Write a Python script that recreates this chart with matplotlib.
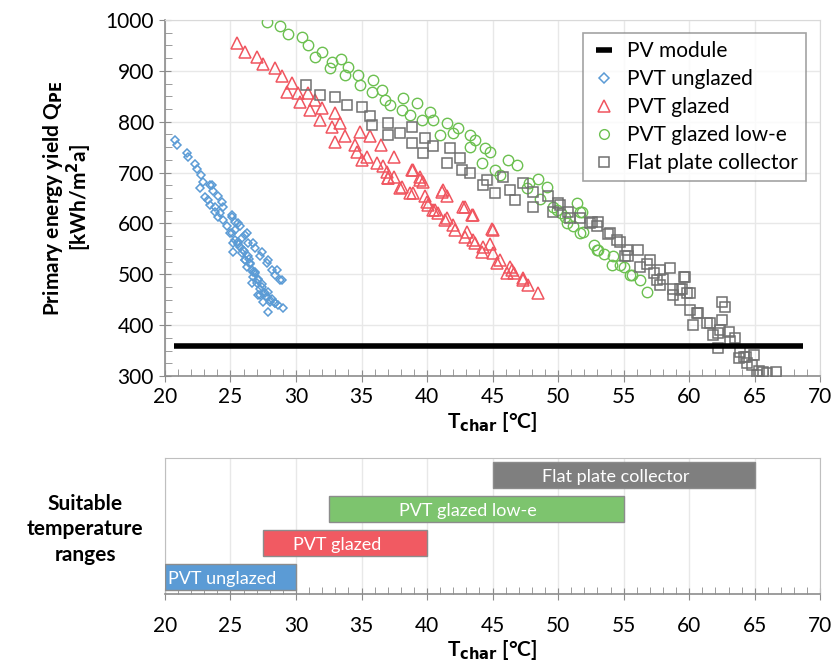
import matplotlib.pyplot as plt
from matplotlib.lines import Line2D
from matplotlib.ticker import MultipleLocator

plt.rcParams["font.family"] = ["Lato", "DejaVu Sans"]

# PV module (constant yield)
pv_t = [20.7, 68.7]
pv_q = [360, 360]

# PVT unglazed
ung_t = [20.76, 20.94, 21.65, 21.78, 22.29, 22.47, 22.72, 22.93, 22.67, 23.56,
         23.69, 23.05, 24.07, 24.33, 23.44, 24.45, 23.82, 24.07, 25.09, 25.34,
         24.71, 25.73, 24.96, 26.10, 25.34, 26.36, 25.21, 25.73, 26.87, 25.85,
         27.25, 26.10, 27.76, 26.23, 26.62, 28.14, 28.40, 26.74, 28.78, 27.00,
         26.62, 27.25, 27.51, 27.76, 27.25, 28.02, 27.51, 27.89, 28.40, 29.03,
         28.65, 26.40, 26.90, 27.10, 25.60, 26.00, 27.40, 27.90, 28.20, 26.50,
         23.44, 23.31, 23.82, 24.20, 24.45, 25.09, 25.60, 26.23, 26.74, 27.38,
         27.89, 28.52, 28.91, 25.09, 25.21, 25.60, 25.97, 26.10, 26.49, 26.74,
         27.12, 27.38, 27.63, 28.02, 27.12, 28.40, 26.87, 26.36, 25.85, 25.34]
ung_q = [764, 754, 738, 731, 716, 708, 695, 682, 669, 676,
         664, 651, 653, 643, 636, 632, 623, 613, 613, 603,
         594, 594, 581, 577, 567, 561, 544, 554, 551, 541,
         535, 528, 522, 515, 508, 508, 499, 495, 489, 482,
         482, 472, 463, 456, 459, 446, 446, 426, 443, 433,
         440, 530, 505, 490, 560, 545, 480, 465, 452, 520,
         676, 646, 633, 620, 607, 617, 600, 581, 561, 544,
         528, 508, 489, 581, 561, 564, 548, 528, 522, 505,
         489, 476, 463, 450, 459, 443, 502, 535, 571, 587]

# PVT glazed
gl_t = [25.52, 26.11, 27.05, 27.51, 28.40, 28.91, 29.67, 29.29, 30.18, 30.31,
        30.94, 31.45, 31.07, 31.96, 31.83, 32.98, 33.36, 32.72, 33.74, 34.89,
        35.65, 34.50, 34.63, 35.39, 36.45, 36.20, 37.47, 36.97, 37.47, 38.82,
        38.07, 39.47, 39.71, 38.95, 41.24, 41.50, 39.97, 40.48, 42.90, 43.54,
        41.50, 42.00, 45.04, 43.03, 43.54, 44.30, 45.04, 45.57, 45.31, 46.34,
        46.60, 46.08, 47.35, 47.73, 48.49, 33.00, 35.00, 37.00, 40.80, 44.80,
        36.67, 37.05, 37.94, 38.95, 39.47, 39.85, 41.12, 40.61, 41.37, 42.77,
        43.41, 42.14, 42.90, 43.66, 44.93, 44.17, 46.46, 47.35, 40.10, 38.70]
gl_q = [954, 938, 928, 913, 905, 889, 876, 859, 856, 839,
        856, 843, 823, 826, 803, 817, 797, 790, 771, 780,
        771, 754, 741, 731, 754, 718, 731, 702, 692, 705,
        672, 692, 682, 659, 666, 653, 643, 626, 633, 617,
        610, 597, 587, 584, 567, 554, 541, 528, 522, 515,
        502, 502, 489, 479, 463, 760, 725, 690, 620, 560,
        712, 689, 669, 705, 685, 653, 662, 626, 607, 633,
        617, 587, 574, 561, 590, 544, 508, 492, 636, 659]

# PVT glazed low-e
le_t = [27.80, 28.78, 29.41, 30.43, 30.94, 31.96, 31.45, 32.72, 33.47, 33.99,
        32.60, 33.74, 34.76, 34.89, 35.90, 35.78, 36.55, 36.79, 37.18, 38.19,
        38.07, 39.21, 38.70, 40.23, 39.59, 40.48, 40.99, 41.50, 42.00, 42.39,
        43.28, 43.66, 43.28, 44.43, 44.81, 46.21, 46.84, 44.17, 45.57, 48.49,
        49.12, 47.60, 48.63, 49.64, 51.43, 51.68, 50.66, 51.68, 52.70, 52.95,
        54.20, 54.11, 55.00, 55.62, 56.26, 56.77, 53.50, 50.20, 47.80, 45.20,
        49.89, 51.81, 51.17, 53.08, 54.73, 55.50, 50.53, 51.93]
le_q = [996, 988, 972, 966, 951, 938, 928, 918, 923, 908,
        905, 892, 892, 872, 882, 859, 862, 843, 833, 846,
        823, 836, 813, 820, 803, 803, 774, 797, 777, 787,
        774, 764, 751, 748, 741, 725, 715, 718, 695, 687,
        672, 669, 649, 633, 640, 623, 600, 581, 558, 548,
        535, 518, 515, 499, 489, 466, 540, 620, 680, 705,
        626, 623, 594, 548, 518, 499, 613, 584]

# Flat plate collector
fp_t = [30.76, 31.83, 32.98, 33.87, 35.01, 35.65, 35.78, 37.05, 37.05, 37.94,
        38.82, 38.82, 39.85, 40.48, 39.71, 41.75, 41.50, 42.52, 42.65, 43.28,
        44.54, 44.30, 45.19, 45.83, 46.34, 46.72, 47.35, 48.11, 48.11, 49.25,
        49.64, 50.15, 50.92, 52.95, 52.57, 54.46, 55.22, 55.34, 56.11, 57.02,
        57.28, 58.55, 58.80, 59.69, 59.82, 60.59, 61.35, 62.49, 62.75, 62.37,
        63.13, 63.77, 60.30, 61.80, 62.20, 63.90, 64.30, 64.80, 65.60, 66.60,
        65.20, 53.80, 56.80, 58.00,
        50.00, 50.76, 51.68, 52.44, 53.08, 53.97, 54.73, 55.11, 56.26, 57.79,
        57.53, 59.57, 59.31, 57.79, 58.80, 59.43, 60.08, 60.08, 60.71, 61.60,
        62.49, 62.23, 63.00, 63.51, 64.15, 64.92, 64.40, 65.29, 65.93, 59.31]
fp_q = [872, 853, 849, 833, 828, 811, 794, 798, 774, 777,
        790, 758, 767, 752, 738, 748, 718, 728, 705, 699,
        685, 676, 659, 692, 666, 646, 679, 662, 633, 653,
        623, 636, 610, 594, 603, 567, 548, 535, 548, 528,
        502, 512, 472, 495, 463, 423, 404, 446, 436, 390,
        368, 335, 400, 381, 355, 347, 337, 322, 308, 308,
        302, 580, 520, 490,
        640, 623, 610, 600, 603, 581, 564, 535, 515, 508,
        489, 495, 472, 479, 459, 472, 463, 430, 423, 404,
        410, 384, 387, 374, 338, 341, 325, 309, 305, 450]

# Suitable temperature ranges
range_names = ["PVT unglazed", "PVT glazed", "PVT glazed low-e", "Flat plate collector"]
range_start = [20, 27.5, 32.5, 45]
range_end = [30, 40, 55, 65]

c_blue = "#5B9BD5"
c_red = "#F0555F"
c_green = "#6CC050"
c_gray = "#707070"
bar_colors = ["#5B9BD5", "#F15A62", "#7DC46E", "#7F7F7F"]
grid_c = "#E8E8E8"
axis_c = "#8C8C8C"

fig = plt.figure(figsize=(8.37, 6.66), dpi=100)
ax = fig.add_axes([0.197, 0.4354, 0.783, 0.5346])
ax2 = fig.add_axes([0.197, 0.108, 0.783, 0.204])

ax.plot(pv_t, pv_q, color="black", lw=4, solid_capstyle="butt", zorder=4)
ax.plot(ung_t, ung_q, ls="none", marker="D", ms=4.5, mfc="none", mec=c_blue, mew=1.1, zorder=3)
ax.plot(gl_t, gl_q, ls="none", marker="^", ms=9, mfc="none", mec=c_red, mew=1.1, zorder=3)
ax.plot(le_t, le_q, ls="none", marker="o", ms=7.5, mfc="none", mec=c_green, mew=1.0, zorder=3)
ax.plot(fp_t, fp_q, ls="none", marker="s", ms=7.5, mfc="none", mec=c_gray, mew=1.1, zorder=3)

ax.set_xlim(20, 70)
ax.set_ylim(300, 1000)
ax.xaxis.set_major_locator(MultipleLocator(5))
ax.xaxis.set_minor_locator(MultipleLocator(1))
ax.yaxis.set_major_locator(MultipleLocator(100))
ax.yaxis.set_minor_locator(MultipleLocator(25))
ax.grid(True, which="major", color=grid_c, lw=1)
ax.set_axisbelow(True)
for s in ["top", "right"]:
    ax.spines[s].set_color("#D9D9D9")
for s in ["left", "bottom"]:
    ax.spines[s].set_color(axis_c)
    ax.spines[s].set_linewidth(1.2)
ax.tick_params(which="major", direction="inout", length=9, color=axis_c, labelsize=15)
ax.tick_params(which="minor", direction="in", length=5, color=axis_c)
ax.set_xlabel("T$_\\mathbf{char}$ [°C]", fontsize=15, fontweight="bold", labelpad=2)
ax.set_ylabel("Primary energy yield Q$_\\mathbf{PE}$\n[kWh/m$^\\mathbf{2}$a]",
              fontsize=15, fontweight="bold", labelpad=8, linespacing=1.0)

handles = [
    Line2D([], [], color="black", marker="_", ms=11, mew=4, ls="none"),
    Line2D([], [], color=c_blue, marker="D", ms=5, mfc="none", mew=1.1, ls="none"),
    Line2D([], [], color=c_red, marker="^", ms=8, mfc="none", mew=1.1, ls="none"),
    Line2D([], [], color=c_green, marker="o", ms=7, mfc="none", mew=1.0, ls="none"),
    Line2D([], [], color=c_gray, marker="s", ms=7, mfc="none", mew=1.1, ls="none"),
]
labels = ["PV module", "PVT unglazed", "PVT glazed", "PVT glazed low-e", "Flat plate collector"]
leg = ax.legend(handles, labels, loc="upper right", bbox_to_anchor=(0.985, 0.975),
                fontsize=15, frameon=True, fancybox=False, edgecolor="#8C8C8C",
                handlelength=1.2, handletextpad=0.5, labelspacing=0.38, borderpad=0.4,
                borderaxespad=0.2)
leg.get_frame().set_linewidth(1.2)

# bottom panel: suitable temperature ranges
ypos = [0.5, 1.5, 2.5, 3.5]
widths = [e - s for s, e in zip(range_start, range_end)]
ax2.barh(ypos, widths, left=range_start, height=0.78, color=bar_colors,
         edgecolor="#8C8C8C", lw=1.0, zorder=3)
for y, s, w, name in zip(ypos, range_start, widths, range_names):
    ax2.text(s + w / 2 - 0.6, y - 0.05, name, color="white", fontsize=13,
             ha="center", va="center", zorder=4)
ax2.set_xlim(20, 70)
ax2.set_ylim(0, 4)
ax2.set_yticks([])
ax2.xaxis.set_major_locator(MultipleLocator(5))
ax2.xaxis.set_minor_locator(MultipleLocator(1))
ax2.grid(True, axis="x", which="major", color=grid_c, lw=1)
ax2.set_axisbelow(True)
for s in ["top", "right", "left"]:
    ax2.spines[s].set_color("#BFBFBF")
ax2.spines["bottom"].set_color(axis_c)
ax2.spines["bottom"].set_linewidth(1.2)
ax2.tick_params(which="major", direction="inout", length=9, color=axis_c, labelsize=15, pad=11)
ax2.tick_params(which="minor", direction="in", length=5, color=axis_c)
ax2.set_xlabel("T$_\\mathbf{char}$ [°C]", fontsize=15, fontweight="bold", labelpad=2)

fig.text(0.102, 0.205, "Suitable\ntemperature\nranges", fontsize=15, fontweight="bold",
         ha="center", va="center", linespacing=1.35)

fig.savefig("out.png", dpi=100)
